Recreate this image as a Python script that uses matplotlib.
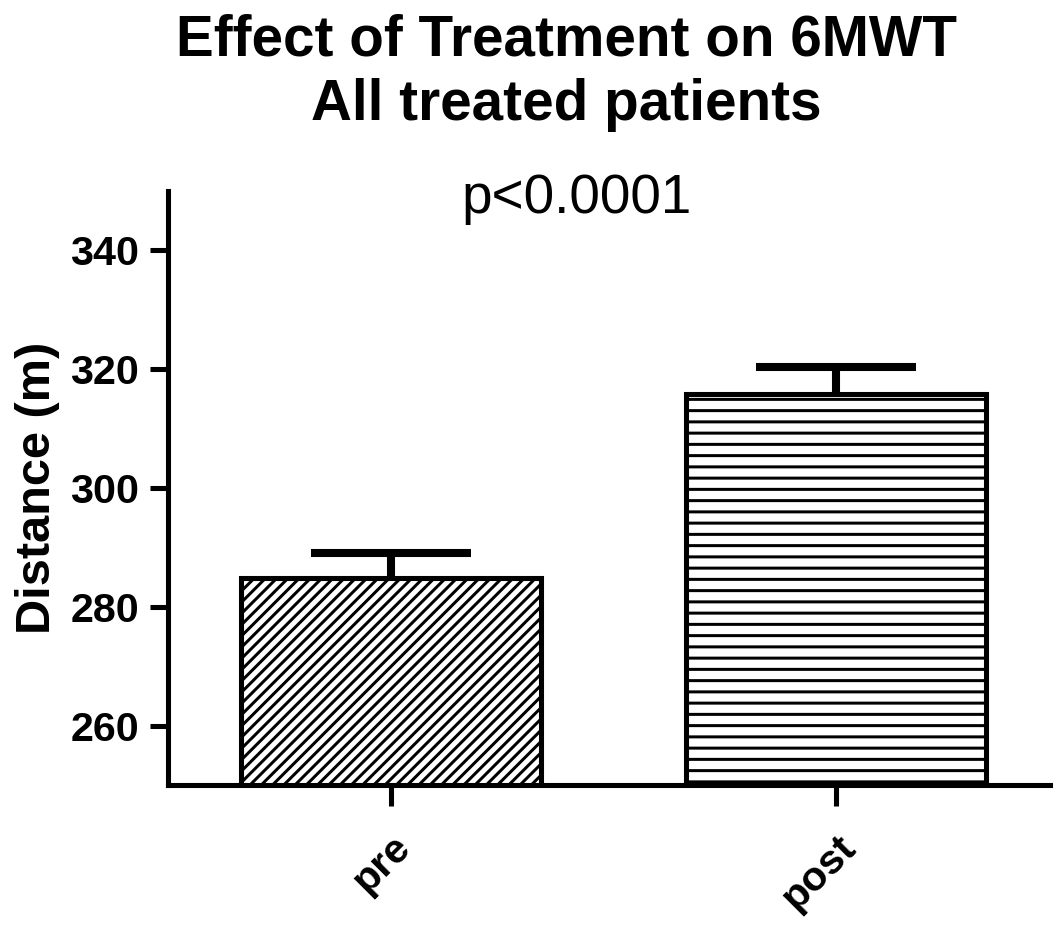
import numpy as np
import matplotlib
matplotlib.use("Agg")
import matplotlib.pyplot as plt

# data
groups = ["pre", "post"]
means = np.array([284.8, 315.8])
sems = np.array([4.3, 4.6])
hatches = ["////", "--"]

plt.rcParams['font.family'] = ['Liberation Sans', 'DejaVu Sans']
plt.rcParams['hatch.linewidth'] = 1.6
plt.rcParams['hatch.color'] = 'black'

DPI = 135
fig = plt.figure(figsize=(1055 / DPI, 927 / DPI), dpi=DPI)
ax = fig.add_axes([168 / 1055, 1 - 785 / 927, (1050 - 168) / 1055, (785 - 191) / 927])

x = np.arange(len(groups))
bars = ax.bar(x, means, width=0.673, color='white', edgecolor='black', linewidth=2.7, zorder=2)
for b, h in zip(bars, hatches):
    b.set_hatch(h)

# upper-only SEM bars
cap = 0.18
ax.vlines(x, means, means + sems, color='black', linewidth=4.3, zorder=3)
ax.hlines(means + sems, x - cap, x + cap, color='black', linewidth=4.3, zorder=3)

ax.set_ylim(250, 350)
ax.set_xlim(-0.5, 1.48)
ax.set_yticks([260, 280, 300, 320, 340])
ax.set_xticks(x)
ax.set_xticklabels(groups, rotation=45, ha='right', va='top', rotation_mode='anchor',
                   fontsize=22, fontweight='bold')
for lbl in ax.get_yticklabels():
    lbl.set_fontsize(22)
    lbl.set_fontweight('bold')

for s in ['top', 'right']:
    ax.spines[s].set_visible(False)
for s in ['left', 'bottom']:
    ax.spines[s].set_linewidth(2.7)
ax.tick_params(axis='both', width=2.7, color='black')
ax.tick_params(axis='x', length=11, pad=12)
ax.tick_params(axis='y', length=9.5, pad=6)

ax.set_ylabel("Distance (m)", fontsize=26, fontweight='bold')
ax.yaxis.set_label_coords(-108 / 882, 0.5)

fig.text(566 / 1055, 1 - 55 / 927, "Effect of Treatment on 6MWT", ha='center', va='baseline',
         fontsize=30.2, fontweight='bold')
fig.text(566 / 1055, 1 - 120 / 927, "All treated patients", ha='center', va='baseline',
         fontsize=30.2, fontweight='bold')
fig.text(577 / 1055, 1 - 213 / 927, "p<0.0001", ha='center', va='baseline', fontsize=29.3)

fig.savefig("out.png", dpi=DPI)
